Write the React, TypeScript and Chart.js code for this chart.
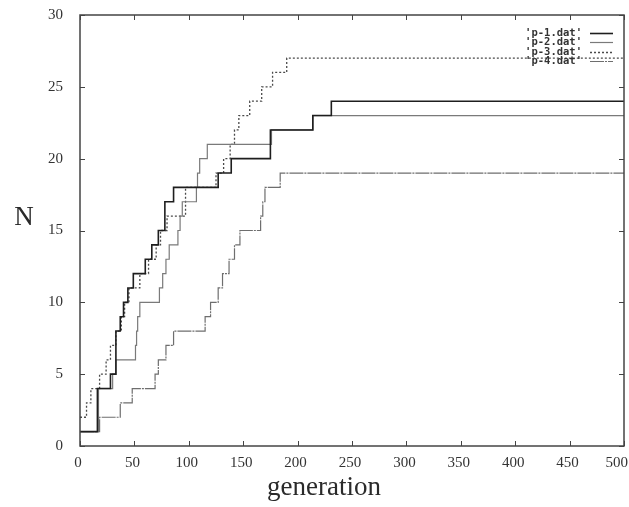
import React, { useEffect, useRef } from 'react';
import { Chart, registerables } from 'chart.js';

Chart.register(...registerables);

// ---- data ----
const xTicks = [0, 50, 100, 150, 200, 250, 300, 350, 400, 450, 500];
const yTicks = [0, 5, 10, 15, 20, 25, 30];
const seriesNames = ["'p-1.dat'", "'p-2.dat'", "'p-3.dat'", "'p-4.dat'"];

const p1Gen = [0, 16, 28, 33, 37, 40, 44, 49, 60, 66, 72, 78, 86, 127, 139, 175, 214, 231, 500];
const p1N = [1, 4, 5, 8, 9, 10, 11, 12, 13, 14, 15, 17, 18, 19, 20, 22, 23, 24, 24];

const p2Gen = [0, 17, 30, 33, 51, 52, 53, 55, 73, 76, 79, 82, 90, 92, 94, 107, 108, 110, 117, 176, 214, 500];
const p2N = [1, 4, 5, 6, 7, 8, 9, 10, 11, 12, 13, 14, 15, 16, 17, 18, 19, 20, 21, 22, 23, 23];

const p3Gen = [0, 6, 10, 18, 24, 28, 33, 38, 41, 45, 55, 63, 70, 74, 80, 97, 125, 132, 138, 142, 146, 156, 167, 177, 190, 500];
const p3N = [2, 3, 4, 5, 6, 7, 8, 9, 10, 11, 12, 13, 14, 15, 16, 18, 19, 20, 21, 22, 23, 24, 25, 26, 27, 27];

const p4Gen = [0, 18, 37, 48, 69, 72, 79, 86, 115, 120, 127, 131, 137, 142, 147, 166, 168, 170, 184, 500];
const p4N = [1, 2, 3, 4, 5, 6, 7, 8, 9, 10, 11, 12, 13, 14, 15, 16, 17, 18, 19, 19];

const xTitle = 'generation';
const yTitle = 'N';

// ---- styles ----
const lineColors = ['#1e1e1e', '#7a7a7a', '#4a4a4a', '#6e6e6e'];
const lineWidths = [1.6, 1.2, 1.3, 1.2];
const lineDashes: number[][] = [[], [], [2, 2], [14, 1, 2, 1]];
const tickFont = '"Liberation Serif", serif';

const toPoints = (g: number[], n: number[]) => g.map((x, i) => ({ x, y: n[i] }));

const framePlugin = {
  id: 'gnuplotFrame',
  afterDraw(chart: any) {
    const { ctx, chartArea, width } = chart;
    const { left, right, top, bottom } = chartArea;
    const xs = chart.scales.x;
    const ys = chart.scales.y;
    ctx.save();
    // border box
    ctx.strokeStyle = '#444';
    ctx.lineWidth = 1.5;
    ctx.setLineDash([]);
    ctx.strokeRect(left, top, right - left, bottom - top);
    // inward ticks, mirrored
    ctx.lineWidth = 1;
    const tl = 5;
    ctx.beginPath();
    xTicks.forEach((v) => {
      const px = Math.round(xs.getPixelForValue(v)) + 0.5;
      ctx.moveTo(px, bottom);
      ctx.lineTo(px, bottom - tl);
      ctx.moveTo(px, top);
      ctx.lineTo(px, top + tl);
    });
    yTicks.forEach((v) => {
      const py = Math.round(ys.getPixelForValue(v)) + 0.5;
      ctx.moveTo(left, py);
      ctx.lineTo(left + tl, py);
      ctx.moveTo(right, py);
      ctx.lineTo(right - tl, py);
    });
    ctx.stroke();

    // x tick labels (kept inside the canvas like the original)
    ctx.fillStyle = '#333';
    ctx.font = '15px ' + tickFont;
    ctx.textAlign = 'center';
    ctx.textBaseline = 'middle';
    xTicks.forEach((v) => {
      const label = String(v);
      const w = ctx.measureText(label).width;
      let cx = xs.getPixelForValue(v) - 2;
      if (cx + w / 2 > width - 1) cx = width - 1 - w / 2;
      ctx.fillText(label, cx, 463);
    });

    // axis titles
    ctx.fillStyle = '#2a2a2a';
    ctx.font = '27px "Liberation Serif", serif';
    ctx.textAlign = 'center';
    ctx.textBaseline = 'alphabetic';
    ctx.fillText(xTitle, 324, 495);
    ctx.fillText(yTitle, 24, 225);

    // legend (gnuplot style)
    ctx.font = 'bold 10.5px "DejaVu Sans Mono", monospace';
    ctx.textAlign = 'right';
    ctx.textBaseline = 'middle';
    const rows = [33, 42, 52, 61];
    seriesNames.forEach((name, i) => {
      const y = rows[i];
      ctx.fillStyle = '#333';
      ctx.fillText(name, 582, y);
      ctx.beginPath();
      ctx.strokeStyle = lineColors[i];
      ctx.lineWidth = lineWidths[i];
      ctx.setLineDash(lineDashes[i]);
      ctx.moveTo(590, y + 0.5);
      ctx.lineTo(613, y + 0.5);
      ctx.stroke();
    });
    ctx.restore();
  },
};

export default function App() {
  const ref = useRef<HTMLCanvasElement | null>(null);
  useEffect(() => {
    document.body.style.margin = '0';
    const canvas = ref.current;
    if (!canvas) return;
    const series = [
      toPoints(p1Gen, p1N),
      toPoints(p2Gen, p2N),
      toPoints(p3Gen, p3N),
      toPoints(p4Gen, p4N),
    ];
    const chart = new Chart(canvas, {
      type: 'line',
      data: {
        datasets: series.map((d, i) => ({
          label: seriesNames[i],
          data: d,
          stepped: 'before' as const,
          borderColor: lineColors[i],
          borderWidth: lineWidths[i],
          borderDash: lineDashes[i],
          pointRadius: 0,
          fill: false,
        })),
      },
      options: {
        animation: false,
        responsive: false,
        maintainAspectRatio: false,
        layout: { padding: { left: 0, right: 5, top: 15, bottom: 0 } },
        plugins: {
          legend: { display: false },
          tooltip: { enabled: false },
          title: { display: false },
        },
        scales: {
          x: {
            type: 'linear',
            min: 0,
            max: 500,
            grid: { display: false, drawTicks: false },
            border: { display: false },
            afterBuildTicks: (s: any) => {
              s.ticks = xTicks.map((v) => ({ value: v }));
            },
            afterFit: (s: any) => {
              s.height = 61;
              s.paddingLeft = 0;
              s.paddingRight = 0;
            },
            ticks: { display: false, autoSkip: false, maxRotation: 0 },
          },
          y: {
            type: 'linear',
            min: 0,
            max: 30,
            grid: { display: false, drawTicks: false },
            border: { display: false },
            afterBuildTicks: (s: any) => {
              s.ticks = yTicks.map((v) => ({ value: v }));
            },
            afterFit: (s: any) => {
              s.width = 80;
              s.paddingTop = 0;
              s.paddingBottom = 0;
            },
            ticks: {
              padding: 17,
              color: '#333',
              font: { family: tickFont, size: 15 },
            },
          },
        },
      },
      plugins: [framePlugin],
    });
    return () => chart.destroy();
  }, []);
  return <canvas ref={ref} width={629} height={507} style={{ display: 'block' }} />;
}
